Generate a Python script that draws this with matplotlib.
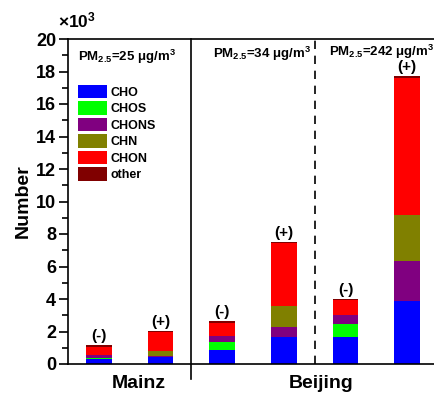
import numpy as np
import matplotlib
matplotlib.use("Agg")
import matplotlib.pyplot as plt
from matplotlib.patches import Patch
from matplotlib.ticker import MultipleLocator

plt.rcParams['font.family'] = ['Liberation Sans', 'DejaVu Sans']
plt.rcParams['mathtext.fontset'] = 'custom'
plt.rcParams['mathtext.rm'] = 'Liberation Sans:bold'
plt.rcParams['mathtext.bf'] = 'Liberation Sans:bold'
plt.rcParams['mathtext.default'] = 'bf'

# numbers of formulas (x10^3), one entry per bar
bars = ['Mainz (-)', 'Mainz (+)', 'Beijing1 (-)', 'Beijing1 (+)', 'Beijing2 (-)', 'Beijing2 (+)']
signs = ['(-)', '(+)', '(-)', '(+)', '(-)', '(+)']
groups = ['CHO', 'CHOS', 'CHONS', 'CHN', 'CHON', 'other']
cho = [0.28, 0.41, 0.84, 1.64, 1.66, 3.90]
chos = [0.12, 0.00, 0.49, 0.00, 0.82, 0.00]
chons = [0.16, 0.10, 0.37, 0.62, 0.53, 2.44]
chn = [0.02, 0.27, 0.00, 1.29, 0.00, 2.81]
chon = [0.49, 1.17, 0.82, 3.90, 0.90, 8.43]
other = [0.10, 0.06, 0.14, 0.08, 0.10, 0.12]
pm_labels = ['PM$_{2.5}$=25 μg/m$^3$', 'PM$_{2.5}$=34 μg/m$^3$', 'PM$_{2.5}$=242 μg/m$^3$']

colors = ['#0000ff', '#00ff00', '#800080', '#808000', '#ff0000', '#800000']
series = [cho, chos, chons, chn, chon, other]

fig = plt.figure(figsize=(4.35, 3.94), dpi=100)
ax = fig.add_axes([68/435, 30/394, 370/435, 325/394])

x = np.arange(1, len(bars) + 1)
bottom = np.zeros(len(bars))
for vals, c in zip(series, colors):
    ax.bar(x, vals, 0.42, bottom=bottom, color=c, linewidth=0)
    bottom += np.array(vals)

for xi, top, s in zip(x, bottom, signs):
    ax.annotate(s, (xi, top), xytext=(0, 1.5), textcoords='offset points',
                ha='center', va='bottom', fontsize=11, fontweight='bold')

ax.set_xlim(0.5, 6.5)
ax.set_ylim(0, 20)
ax.yaxis.set_major_locator(MultipleLocator(2))
ax.yaxis.set_minor_locator(MultipleLocator(1))
ax.tick_params(axis='y', which='major', direction='out', length=6.5, width=1.2,
               labelsize=13, pad=2)
ax.tick_params(axis='y', which='minor', direction='out', length=4, width=1.2)
for lab in ax.get_yticklabels():
    lab.set_fontweight('bold')
ax.set_xticks([])
for sp in ax.spines.values():
    sp.set_linewidth(1.2)
ax.spines['right'].set_visible(False)

ax.set_ylabel('Number', fontsize=14, fontweight='bold', labelpad=3)
ax.text(-0.028, 1.025, '×10$^3$', transform=ax.transAxes, ha='left', va='bottom',
        fontsize=12.5, fontweight='bold')

ax.plot([2.5, 2.5], [-0.9, 20], color='black', lw=1.2, clip_on=False)
ax.plot([4.5, 4.5], [0, 20], color='black', lw=1.2, ls=(0, (5, 4)))

ax.text(0.66, 18.88, pm_labels[0], fontsize=9.5, fontweight='bold', va='center')
ax.text(2.85, 19.08, pm_labels[1], fontsize=9.5, fontweight='bold', va='center')
ax.text(4.74, 19.2, pm_labels[2], fontsize=9.5, fontweight='bold', va='center')

ax.text(1.65, -0.7, 'Mainz', fontsize=14, fontweight='bold', ha='center', va='top')
ax.text(4.61, -0.7, 'Beijing', fontsize=14, fontweight='bold', ha='center', va='top')

handles = [Patch(facecolor=c, edgecolor='none', label=g) for g, c in zip(groups, colors)]
leg = ax.legend(handles=handles, loc='upper left', bbox_to_anchor=(0.0, 0.89),
                frameon=False, fontsize=9, handlelength=2.3, handleheight=1.3,
                labelspacing=0.2, handletextpad=0.3, borderaxespad=0.4)
for t in leg.get_texts():
    t.set_fontweight('bold')

fig.savefig('out.png', dpi=100)
